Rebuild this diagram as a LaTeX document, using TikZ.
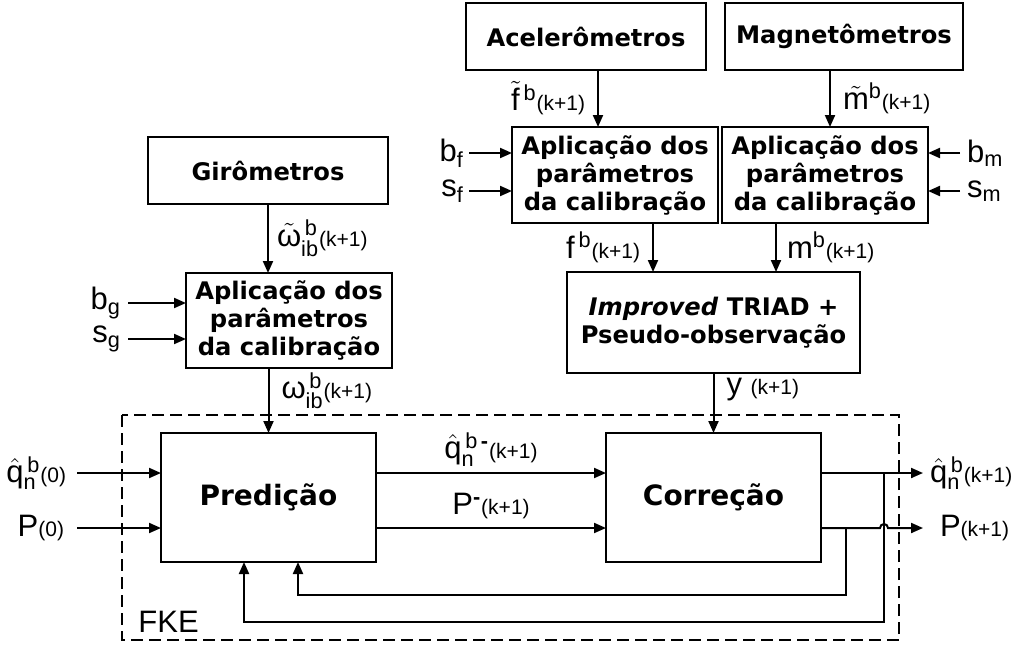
\documentclass[tikz,border=0pt]{standalone}
\usepackage{amsmath}
\usepackage{fontspec}
\setmainfont{Liberation Sans}
\newfontfamily\blkfont{DejaVu Sans}
\usetikzlibrary{
  arrows.meta,
  positioning
}

% rótulos dos sinais
\newcommand{\smt}[1]{{\fontsize{10.5}{12}\selectfont #1}}
\newcommand{\kp}{\smt{(k+1)}}
\newcommand{\tq}{\hat{\text{q}}}

\begin{document}
\begin{tikzpicture}[%estilos
          x=0.5pt,y=-0.5pt,
          blk/.style={
              draw,
              line width=1pt,
              align=center,
              inner sep=0pt,
              outer sep=0pt,
              font=\blkfont\bfseries\fontsize{12.1}{14}\selectfont
            },
          big/.style={
              blk,
              font=\blkfont\bfseries\fontsize{14}{17}\selectfont
            },
          sig/.style={
              line width=1pt,
              -{Triangle[length=6pt,width=5pt]}
            },
          lbl/.style={
              font=\fontsize{15.5}{17}\selectfont,
              inner sep=1pt
            }
        ]

        \useasboundingbox (0,0) rectangle (1016,648);

        % sensores
        \node[blk,minimum width=120pt,minimum height=33.5pt] (acel) at (586,36.5) {Acelerômetros};
        \node[blk,minimum width=119pt,minimum height=33.5pt] (magn) at (844,36.5) {Magnetômetros};
        \node[blk,minimum width=120pt,minimum height=33.5pt] (giro) at (268,170.5) {Girômetros};

        % calibração
        \node[blk,minimum width=103pt,minimum height=48pt] (calf) at (615,175)
          {Aplicação dos\\parâmetros\\da calibração};
        \node[blk,minimum width=103pt,minimum height=48pt] (calm) at (825,175)
          {Aplicação dos\\parâmetros\\da calibração};
        \node[blk,minimum width=103pt,minimum height=47.5pt] (calg) at (289,320.5)
          {Aplicação dos\\parâmetros\\da calibração};
        \node[blk,minimum width=146.5pt,minimum height=50.5pt] (triad) at (713.5,322.5)
          {\itshape Improved\/ \upshape TRIAD +\\Pseudo-observação};

        % filtro
        \draw[line width=1pt,dash pattern=on 6pt off 3pt] (122,415) rectangle (899,640);
        \node[lbl,anchor=base west] (fke) at (136,632) {FKE};
        \node[big,minimum width=107.5pt,minimum height=64.5pt] (pred) at (268.5,497.5) {Predição};
        \node[big,minimum width=107.5pt,minimum height=64.5pt] (corr) at (713.5,497.5) {Correção};

        % pontos auxiliares
        \coordinate (fin) at ([xshift=-8.5pt]calf.north);
        \coordinate (min) at ([xshift=2.5pt]calm.north);
        \coordinate (fout) at ([xshift=19pt]calf.south);
        \coordinate (mout) at ([xshift=-24.5pt]calm.south);
        \coordinate (bf) at ([yshift=11pt]calf.west);
        \coordinate (sf) at ([yshift=-8pt]calf.west);
        \coordinate (bm) at ([yshift=11pt]calm.east);
        \coordinate (sm) at ([yshift=-8pt]calm.east);
        \coordinate (bg) at ([yshift=8.75pt]calg.west);
        \coordinate (sg) at ([yshift=-9.25pt]calg.west);
        \coordinate (pq) at ([yshift=12.25pt]pred.west);
        \coordinate (pp) at ([yshift=-15.25pt]pred.west);
        \coordinate (cq) at ([yshift=12.25pt]corr.west);
        \coordinate (cp) at ([yshift=-15.25pt]corr.west);
        \coordinate (oq) at ([yshift=12.25pt]corr.east);
        \coordinate (op) at ([yshift=-15.25pt]corr.east);
        \coordinate (fbq) at ([xshift=-12.25pt]pred.south);
        \coordinate (fbp) at ([xshift=14.75pt]pred.south);
        \coordinate (nq) at (884,473);
        \coordinate (np) at (846,528);

        % sinais dos sensores
        \draw[sig] (fin |- acel.south) -- (fin)
          node[lbl,midway,left=5pt] (lft) {$\tilde{\text{f}}{}^{\,\text{b}}$\kp};
        \draw[sig] (min |- magn.south) -- (min)
          node[lbl,midway,right=5pt] (lmt) {$\tilde{\text{m}}{}^{\text{b}}$\kp};
        \draw[sig] (giro.south) -- (giro.south |- calg.north)
          node[lbl,midway,right=3pt] (lwt) {$\tilde{\text{ω}}{}^{\,\text{b}}_{\text{ib}}$\kp};

        % parâmetros
        \draw[sig] ([xshift=-21.5pt]bf) -- (bf) node[lbl,pos=0,left=1pt] (lbf) {b$_{\text{f}}$};
        \draw[sig] ([xshift=-21.5pt]sf) -- (sf) node[lbl,pos=0,left=1pt] (lsf) {s$_{\text{f}}$};
        \draw[sig] ([xshift=16pt]bm) -- (bm) node[lbl,pos=0,right=2pt] (lbm) {b$_{\text{m}}$};
        \draw[sig] ([xshift=16pt]sm) -- (sm) node[lbl,pos=0,right=2pt] (lsm) {s$_{\text{m}}$};
        \draw[sig] ([xshift=-29pt]bg) -- (bg) node[lbl,pos=0,left=2pt] (lbg) {b$_{\text{g}}$};
        \draw[sig] ([xshift=-29pt]sg) -- (sg) node[lbl,pos=0,left=2pt] (lsg) {s$_{\text{g}}$};

        % sinais calibrados
        \draw[sig] (fout) -- (fout |- triad.north)
          node[lbl,midway,left=5pt] (lf) {f$^{\,\text{b}}$\kp};
        \draw[sig] (mout) -- (mout |- triad.north)
          node[lbl,midway,right=4pt] (lm) {m$^{\text{b}}$\kp};
        \draw[sig] (pred.north |- calg.south) -- (pred.north)
          node[lbl,pos=.35,right=5pt] (lw) {$\text{ω}^{\,\text{b}}_{\text{ib}}$\kp};
        \draw[sig] (triad.south) -- (corr.north)
          node[lbl,pos=.28,right=5pt] (ly) {y \kp};

        % entradas iniciais
        \draw[sig] ([xshift=-42pt]pq) -- (pq)
          node[lbl,pos=0,left=4pt] (lq0) {$\tq{}^{\,\text{b}}_{\text{n}}$\smt{(0)}};
        \draw[sig] ([xshift=-42pt]pp) -- (pp)
          node[lbl,pos=0,left=5pt] (lp0) {P\smt{(0)}};

        % predição -> correção
        \draw[sig] (pred.east |- pq) -- (cq)
          node[lbl,midway,above=2pt] (lqm) {$\tq{}^{\,\text{b}\,\textbf{-}}_{\text{n}}$\kp};
        \draw[sig] (pred.east |- pp) -- (cp)
          node[lbl,midway,above=3pt] (lpm) {P$^{\textbf{-}}$\kp};

        % saídas
        \draw[sig] (oq) -- (923,473)
          node[lbl,right=2pt] (lq) {$\tq{}^{\,\text{b}}_{\text{n}}$\kp};
        \draw[sig] (op) -- (880,528) arc[start angle=180,end angle=360,radius=4] -- (923,528)
          node[lbl,right=7pt] (lp) {P\kp};

        % realimentação
        \draw[sig] (nq) -- (884,622) -| (fbq);
        \draw[sig] (np) -- (846,595) -| (fbp);

      \end{tikzpicture}
\end{document}
